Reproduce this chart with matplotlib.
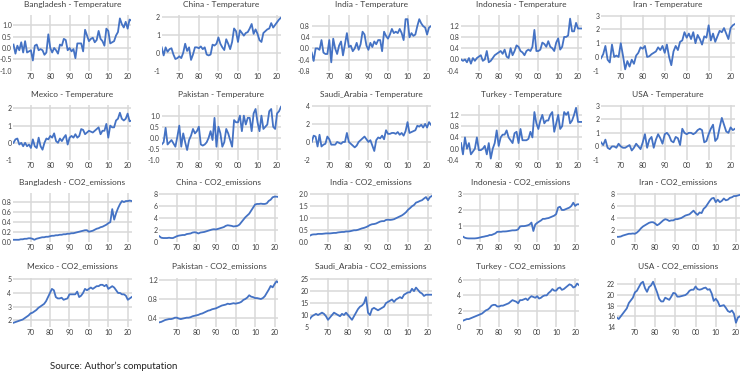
import matplotlib
matplotlib.use("Agg")
import matplotlib.pyplot as plt

plt.rcParams['font.family'] = ['Lato', 'DejaVu Sans']

years = list(range(1961, 2023))
xtick_years = [1970, 1980, 1990, 2000, 2010, 2020]
xtick_labels = ['70', '80', '90', '00', '10', '20']

# ---------------- Temperature series ----------------
bgd_temp = [0.15, -0.25, 0.10, -0.10, 0.25, -0.20, 0.30, -0.20, -0.15, -0.10,
            -0.55, 0.10, 0.15, -0.10, -0.05, -0.10, -0.30, -0.20, 0.60, 0.00,
            -0.20, 0.00, -0.10, -0.25, 0.15, 0.10, 0.40, 0.35, -0.10, 0.00,
            -0.15, -0.05, -0.45, 0.20, 0.20, 0.20, -0.15, 0.80, 0.55, 0.30,
            0.40, 0.45, 0.25, 0.35, 0.75, 0.40, 0.30, 0.10, 0.85, 0.75,
            0.20, 0.25, 0.30, 0.55, 0.70, 1.30, 1.05, 0.90, 1.15, 0.85,
            1.25, 1.20]
chn_temp = [0.30, -0.15, 0.30, 0.05, 0.20, 0.25, -0.10, -0.35, -0.30, -0.20,
            -0.30, 0.00, 0.50, 0.10, 0.30, -0.40, -0.10, 0.30, 0.30, 0.25,
            0.35, 0.20, 0.30, -0.10, -0.15, -0.10, 0.45, 0.40, 0.50, 0.85,
            0.50, 0.30, 0.15, 0.75, 0.50, 0.20, 0.60, 1.35, 1.20, 0.60,
            1.25, 1.10, 0.95, 1.10, 1.15, 1.35, 1.60, 1.05, 1.30, 1.05,
            0.70, 0.60, 1.10, 1.20, 1.30, 1.35, 1.65, 1.40, 1.55, 1.70,
            1.85, 1.95]
ind_temp = [-0.15, -0.45, 0.00, 0.00, -0.05, 0.30, -0.15, -0.20, -0.20, 0.30,
            -0.50, 0.35, 0.00, -0.20, 0.10, 0.25, -0.25, 0.15, 0.55, 0.05,
            0.10, -0.10, 0.00, 0.20, -0.05, 0.15, 0.60, 0.50, 0.10, -0.05,
            0.20, 0.05, 0.25, 0.15, 0.30, 0.30, -0.10, 0.60, 0.45, 0.35,
            0.50, 0.70, 0.55, 0.60, 0.55, 0.70, 0.55, 0.30, 1.05, 1.05,
            0.40, 0.55, 0.45, 0.50, 0.80, 1.05, 0.90, 0.80, 0.75, 0.50,
            0.75, 0.80]
idn_temp = [0.00, -0.05, 0.00, -0.10, 0.05, -0.15, 0.05, -0.05, 0.05, 0.10,
            0.15, -0.05, 0.00, 0.30, -0.10, -0.05, 0.05, 0.15, 0.20, 0.25,
            0.30, 0.20, 0.35, 0.10, 0.05, 0.40, 0.15, 0.30, 0.50, 0.45,
            0.30, 0.25, 0.15, 0.30, 0.35, 0.30, 0.45, 1.05, 0.30, 0.30,
            0.35, 0.60, 0.55, 0.45, 0.65, 0.45, 0.40, 0.30, 0.60, 0.75,
            0.35, 0.45, 0.80, 0.80, 0.85, 1.45, 1.00, 1.00, 1.30, 1.10,
            1.10, 1.10]
irn_temp = [-0.10, 0.20, 0.80, -0.20, -0.40, 0.90, 0.00, 0.10, 0.00, 1.00,
            0.10, -0.90, -0.30, -0.70, -0.20, -0.50, 0.10, 0.30, 0.70, 0.60,
            0.80, 0.00, 0.05, 0.20, 0.30, 0.40, 0.70, 0.50, 0.80, 0.30,
            0.90, 0.00, -0.60, 0.40, 0.80, 0.50, 1.10, 1.20, 1.80, 1.40,
            1.70, 1.30, 1.80, 1.00, 1.60, 1.30, 0.90, 1.50, 1.40, 2.30,
            1.20, 1.70, 1.10, 1.50, 1.90, 1.80, 2.10, 1.70, 1.30, 2.10,
            2.30, 2.40]
mex_temp = [0.00, 0.20, 0.25, -0.10, 0.00, -0.20, 0.00, -0.20, -0.10, -0.30,
            0.20, -0.20, -0.30, 0.30, -0.20, -0.40, 0.00, 0.25, 0.20, 0.40,
            0.30, 0.55, 0.10, 0.00, 0.25, 0.10, 0.30, 0.45, -0.10, 0.30,
            0.40, 0.30, 0.50, 0.30, 0.40, 0.80, 0.75, 0.50, 0.60, 0.70,
            0.65, 0.60, 0.70, 0.80, 0.90, 0.50, 0.70, 0.70, 1.10, 0.30,
            1.00, 0.90, 0.90, 1.30, 1.40, 1.75, 1.40, 1.30, 1.40, 1.70,
            1.25, 1.30]
pak_temp = [-0.30, -0.20, 0.45, -0.30, -0.20, -0.10, -0.25, -0.40, 0.05, 0.55,
            -0.40, 0.20, -0.20, -0.55, -0.10, 0.10, 0.40, 0.20, 0.30, 0.50,
            -0.30, -0.35, -0.30, -0.20, 0.00, 0.30, -0.10, 0.90, -0.40, 0.50,
            0.20, -0.40, -0.20, 0.40, 0.20, -0.10, -0.40, 0.80, 0.70, 0.70,
            1.00, 0.30, 1.00, 0.60, 0.90, 0.90, 0.30, 1.10, 1.30, 0.70,
            0.30, 1.00, 0.40, 0.50, 0.60, 1.20, 1.30, 0.50, 0.40, 1.10,
            1.20, 1.40]
sau_temp = [0.00, 0.70, 0.60, -0.50, 0.80, -0.50, -0.30, -0.20, 0.60, 0.30,
            -0.30, -0.30, -0.30, 0.00, -0.10, -0.20, 0.00, 0.00, 1.00, 0.00,
            -0.20, -0.40, -0.60, -0.40, 0.00, 0.20, 0.40, 0.60, 0.30, 0.00,
            0.20, -0.40, -1.00, 0.20, 0.50, 0.40, 0.70, 0.30, 1.30, 0.90,
            0.90, 1.00, 1.00, 0.90, 1.10, 0.80, 1.00, 0.70, 1.20, 2.20,
            1.00, 1.10, 1.20, 1.30, 1.80, 1.70, 1.90, 1.60, 2.00, 1.60,
            2.20, 1.90]
tur_temp = [0.20, -0.20, 0.40, 0.00, 0.20, -0.20, -0.10, 0.00, 0.40, -0.05,
            -0.05, 0.00, 0.10, -0.20, 0.20, -0.35, 0.00, 0.20, 0.65, 0.10,
            0.40, 0.50, 0.50, 0.65, 0.40, 0.30, 0.20, 0.55, 0.60, 0.20,
            0.70, 0.30, 0.30, 0.30, 0.35, 0.60, 0.40, 1.30, 0.90, 0.70,
            1.00, 1.20, 0.90, 1.00, 1.00, 1.20, 1.30, 0.60, 0.90, 1.20,
            0.70, 0.80, 1.30, 1.20, 1.30, 0.90, 1.00, 1.20, 1.45, 0.95,
            0.95, 0.95]
usa_temp = [0.30, 0.10, 0.50, -0.10, -0.20, 0.00, 0.00, -0.10, 0.20, 0.00,
            -0.10, -0.10, 0.00, 0.10, -0.30, -0.10, 0.20, 0.00, -0.20, 0.30,
            0.90, -0.10, 0.50, 0.70, -0.10, 0.50, 0.90, 0.60, 0.20, 0.90,
            1.00, 0.80, 0.40, 0.30, 0.70, 0.60, 0.10, 1.30, 1.00, 0.90,
            1.00, 1.00, 0.90, 1.00, 1.20, 1.30, 1.20, 0.30, 0.40, 0.90,
            1.30, 1.60, 0.40, 0.60, 1.40, 2.10, 1.60, 1.10, 1.00, 1.40,
            1.20, 1.30]

# ---------------- CO2 emission series ----------------
bgd_co2 = [0.05, 0.05, 0.05, 0.05, 0.06, 0.06, 0.07, 0.07, 0.08, 0.08,
           0.07, 0.05, 0.07, 0.08, 0.09, 0.10, 0.10, 0.11, 0.11, 0.12,
           0.13, 0.13, 0.14, 0.14, 0.15, 0.15, 0.16, 0.16, 0.17, 0.17,
           0.18, 0.18, 0.19, 0.20, 0.21, 0.22, 0.23, 0.24, 0.24, 0.21,
           0.22, 0.23, 0.25, 0.27, 0.28, 0.30, 0.31, 0.33, 0.35, 0.38,
           0.40, 0.66, 0.45, 0.58, 0.68, 0.76, 0.82, 0.80, 0.82, 0.82,
           0.83, 0.82]
chn_co2 = [1.00, 0.75, 0.70, 0.70, 0.70, 0.75, 0.70, 0.70, 0.85, 1.00,
           1.10, 1.15, 1.20, 1.20, 1.35, 1.40, 1.45, 1.60, 1.65, 1.60,
           1.45, 1.60, 1.65, 1.70, 1.80, 1.90, 2.00, 2.10, 2.15, 2.10,
           2.20, 2.30, 2.40, 2.50, 2.70, 2.80, 2.75, 2.70, 2.60, 2.65,
           2.70, 2.90, 3.30, 3.70, 4.10, 4.40, 4.70, 5.20, 5.70, 6.20,
           6.30, 6.30, 6.35, 6.30, 6.30, 6.40, 6.80, 7.00, 7.40, 7.50,
           7.50, 7.45]
ind_co2 = [0.28, 0.32, 0.33, 0.33, 0.35, 0.35, 0.35, 0.36, 0.37, 0.37,
           0.37, 0.38, 0.39, 0.39, 0.41, 0.42, 0.43, 0.43, 0.45, 0.45,
           0.46, 0.48, 0.50, 0.50, 0.52, 0.55, 0.58, 0.60, 0.63, 0.67,
           0.72, 0.75, 0.76, 0.78, 0.82, 0.86, 0.88, 0.88, 0.93, 0.94,
           0.93, 0.94, 0.96, 1.00, 1.04, 1.08, 1.12, 1.18, 1.25, 1.35,
           1.42, 1.50, 1.55, 1.65, 1.68, 1.72, 1.75, 1.82, 1.88, 1.75,
           1.88, 1.93]
idn_co2 = [0.35, 0.28, 0.25, 0.24, 0.24, 0.24, 0.24, 0.25, 0.27, 0.30,
           0.33, 0.35, 0.38, 0.40, 0.45, 0.45, 0.50, 0.55, 0.65, 0.65,
           0.65, 0.67, 0.67, 0.68, 0.70, 0.72, 0.74, 0.74, 0.75, 0.80,
           0.98, 1.00, 1.00, 1.02, 1.05, 1.10, 1.22, 0.70, 1.10, 1.20,
           1.28, 1.35, 1.45, 1.45, 1.48, 1.50, 1.55, 1.60, 1.65, 1.75,
           2.15, 2.20, 2.00, 2.00, 2.05, 2.10, 2.15, 2.25, 2.45, 2.25,
           2.35, 2.35]
irn_co2 = [0.90, 0.90, 0.95, 1.10, 1.20, 1.30, 1.40, 1.40, 1.45, 1.40,
           1.60, 1.90, 2.30, 2.60, 2.80, 3.00, 3.20, 3.30, 3.30, 3.10,
           2.80, 3.00, 3.30, 3.60, 3.80, 3.70, 3.50, 3.60, 3.60, 3.80,
           3.80, 3.90, 4.00, 4.20, 4.40, 4.50, 4.60, 4.90, 5.20, 4.80,
           4.50, 4.90, 4.80, 5.50, 5.80, 6.30, 6.80, 7.20, 7.30, 6.60,
           7.00, 6.60, 6.80, 7.20, 6.90, 7.00, 7.30, 7.40, 7.60, 7.60,
           7.70, 7.80]
mex_co2 = [1.80, 1.85, 1.90, 1.95, 2.00, 2.05, 2.15, 2.25, 2.35, 2.50,
           2.55, 2.65, 2.75, 2.90, 3.00, 3.10, 3.20, 3.40, 3.70, 4.00,
           4.30, 4.20, 3.70, 3.60, 3.60, 3.65, 3.50, 3.55, 3.60, 3.90,
           3.90, 3.90, 3.90, 4.10, 3.70, 3.80, 4.00, 4.30, 4.20, 4.30,
           4.40, 4.30, 4.40, 4.50, 4.50, 4.60, 4.60, 4.50, 4.60, 4.30,
           4.40, 4.50, 4.40, 4.20, 4.00, 4.00, 3.90, 3.90, 3.80, 3.50,
           3.60, 3.70]
pak_co2 = [0.30, 0.31, 0.33, 0.35, 0.36, 0.37, 0.37, 0.38, 0.40, 0.40,
           0.38, 0.37, 0.38, 0.39, 0.40, 0.40, 0.41, 0.43, 0.44, 0.45,
           0.46, 0.48, 0.49, 0.51, 0.53, 0.55, 0.56, 0.58, 0.59, 0.60,
           0.62, 0.64, 0.66, 0.67, 0.68, 0.70, 0.69, 0.70, 0.71, 0.70,
           0.71, 0.72, 0.74, 0.78, 0.80, 0.83, 0.88, 0.85, 0.84, 0.82,
           0.82, 0.81, 0.80, 0.82, 0.86, 0.93, 1.00, 1.08, 1.05, 1.12,
           1.18, 1.15]
sau_co2 = [8.5, 9.5, 10.0, 10.5, 10.0, 10.5, 11.0, 10.5, 9.5, 8.0,
           9.0, 10.0, 11.0, 10.5, 10.0, 9.5, 10.5, 10.0, 11.0, 10.0,
           9.0, 8.0, 9.5, 11.0, 12.5, 13.5, 14.0, 15.0, 17.5, 11.0,
           10.0, 12.5, 13.0, 12.5, 12.0, 12.5, 13.0, 13.5, 15.0, 15.5,
           16.0, 16.5, 15.5, 16.5, 17.0, 17.5, 17.0, 18.5, 19.0, 19.5,
           19.5, 21.0, 20.0, 21.5, 20.5, 19.5, 19.0, 18.0, 18.5, 18.5,
           18.5, 18.5]
tur_co2 = [0.80, 0.90, 1.00, 1.00, 1.10, 1.20, 1.30, 1.40, 1.50, 1.60,
           1.70, 1.90, 2.10, 2.20, 2.40, 2.70, 2.80, 2.80, 2.60, 2.60,
           2.70, 2.70, 2.80, 2.90, 3.00, 3.20, 3.40, 3.30, 3.20, 3.00,
           3.40, 3.40, 3.50, 3.60, 3.40, 3.70, 3.90, 3.80, 3.70, 3.90,
           3.60, 3.70, 3.90, 4.00, 4.00, 4.30, 4.50, 4.80, 4.60, 4.60,
           4.90, 5.00, 4.70, 4.80, 5.00, 5.20, 5.40, 5.30, 5.00, 5.10,
           5.50, 5.30]
usa_co2 = [15.8, 15.5, 16.0, 16.5, 17.0, 17.5, 18.5, 19.0, 19.5, 20.5,
           20.8, 21.5, 22.2, 22.5, 21.3, 20.6, 21.5, 21.8, 22.5, 21.5,
           20.5, 19.3, 18.8, 18.8, 19.5, 19.3, 19.1, 19.7, 20.4, 20.3,
           19.7, 19.7, 19.8, 19.9, 20.0, 20.3, 20.8, 21.0, 21.0, 21.6,
           21.1, 21.0, 21.1, 21.3, 21.4, 21.0, 21.1, 20.3, 18.9, 19.3,
           18.8, 17.9, 18.0, 18.1, 17.6, 17.0, 16.8, 17.1, 16.5, 14.8,
           15.8, 16.0]

countries = ['Bangladesh', 'China', 'India', 'Indonesia', 'Iran',
             'Mexico', 'Pakistan', 'Saudi_Arabia', 'Turkey', 'USA']
temp_series = [bgd_temp, chn_temp, ind_temp, idn_temp, irn_temp,
               mex_temp, pak_temp, sau_temp, tur_temp, usa_temp]
co2_series = [bgd_co2, chn_co2, ind_co2, idn_co2, irn_co2,
              mex_co2, pak_co2, sau_co2, tur_co2, usa_co2]

temp_yticks = [[-1.0, -0.5, 0.0, 0.5, 1.0], [-1, 0, 1, 2], [-0.8, -0.4, 0.0, 0.4, 0.8],
               [-0.4, 0.0, 0.4, 0.8, 1.2], [-1, 0, 1, 2, 3],
               [-1, 0, 1, 2], [-1.0, -0.5, 0.0, 0.5, 1.0], [-2, 0, 2, 4],
               [-0.4, 0.0, 0.4, 0.8, 1.2], [-1, 0, 1, 2, 3]]
temp_ylims = [(-1.0, 1.45), (-1, 2.1), (-0.8, 1.2), (-0.4, 1.58), (-1, 3.05),
              (-1, 2.2), (-1.0, 1.48), (-2, 4.1), (-0.4, 1.55), (-1, 3.05)]
co2_yticks = [[0.0, 0.2, 0.4, 0.6, 0.8], [0, 2, 4, 6, 8], [0.0, 0.5, 1.0, 1.5, 2.0],
              [0, 1, 2, 3], [0, 2, 4, 6, 8],
              [2, 3, 4, 5], [0.4, 0.8, 1.2], [5, 10, 15, 20, 25],
              [0, 2, 4, 6], [14, 16, 18, 20, 22]]
co2_ylims = [(0, 0.98), (0, 8.1), (0, 2.05), (0, 3.05), (0, 8.1),
             (1.5, 5.1), (0.2, 1.25), (5, 25.5), (0, 6.2), (14, 23.2)]

W, H = 750, 379
fig = plt.figure(figsize=(W / 100, H / 100), dpi=100)
fig.patch.set_facecolor('white')

LINE = '#4472C4'
GRID = '#D9D9D9'
TXT = '#404040'

# pixel layout (left, right) for each column, (top, bottom, title_y) for each row
temp_cols = [(13.5, 131.5), (161.7, 281.0), (311.7, 431.0), (461.0, 582.0), (601.0, 735.0)]
co2_cols = [(13.0, 131.7), (159.3, 278.5), (310.0, 432.0), (463.0, 579.0), (616.7, 740.0)]
rows = [(15.0, 70.7, 5.0), (105.0, 160.0, 94.5), (193.0, 242.3, 182.0), (278.0, 327.0, 266.0)]


def fmt_tick(v, ticks):
    if all(float(t).is_integer() for t in ticks):
        return '%d' % v
    return '%.1f' % v


def draw(idx_row, col, title, values, yticks, ylim, cols):
    top, bottom, ty = rows[idx_row]
    left, right = cols[col]
    ax = fig.add_axes([left / W, 1 - bottom / H, (right - left) / W, (bottom - top) / H])
    ax.set_xlim(1961, 2022)
    ax.set_ylim(*ylim)
    for yv in yticks:
        if yv > ylim[0] + 1e-9:
            ax.axhline(yv, color=GRID, lw=1.1, zorder=1)
    for xv in xtick_years:
        ax.axvline(xv, color=GRID, lw=1.1, zorder=1)
    ax.plot(years, values, color=LINE, lw=1.3, zorder=3, solid_joinstyle='round')
    ax.set_xticks(xtick_years)
    ax.set_xticklabels(xtick_labels)
    ax.set_yticks(yticks)
    ax.set_yticklabels([fmt_tick(v, yticks) for v in yticks])
    ax.tick_params(length=0, labelsize=5, colors=TXT)
    ax.tick_params(axis='y', pad=1.2)
    ax.tick_params(axis='x', pad=1.5)
    for s in ax.spines.values():
        s.set_visible(False)
    ax.set_facecolor('none')
    fig.text(((left + right) / 2) / W, 1 - ty / H, title, ha='center', va='center',
             fontsize=6, color=TXT)


for i in range(10):
    draw(i // 5, i % 5, countries[i] + ' - Temperature', temp_series[i],
         temp_yticks[i], temp_ylims[i], temp_cols)
for i in range(10):
    draw(2 + i // 5, i % 5, countries[i] + ' - CO2_emissions', co2_series[i],
         co2_yticks[i], co2_ylims[i], co2_cols)

fig.text(50 / W, 1 - 366 / H, 'Source: Author\u2019s computation', ha='left', va='center',
         fontsize=7, color='#222222')

fig.savefig('out.png', dpi=100, facecolor='white')
